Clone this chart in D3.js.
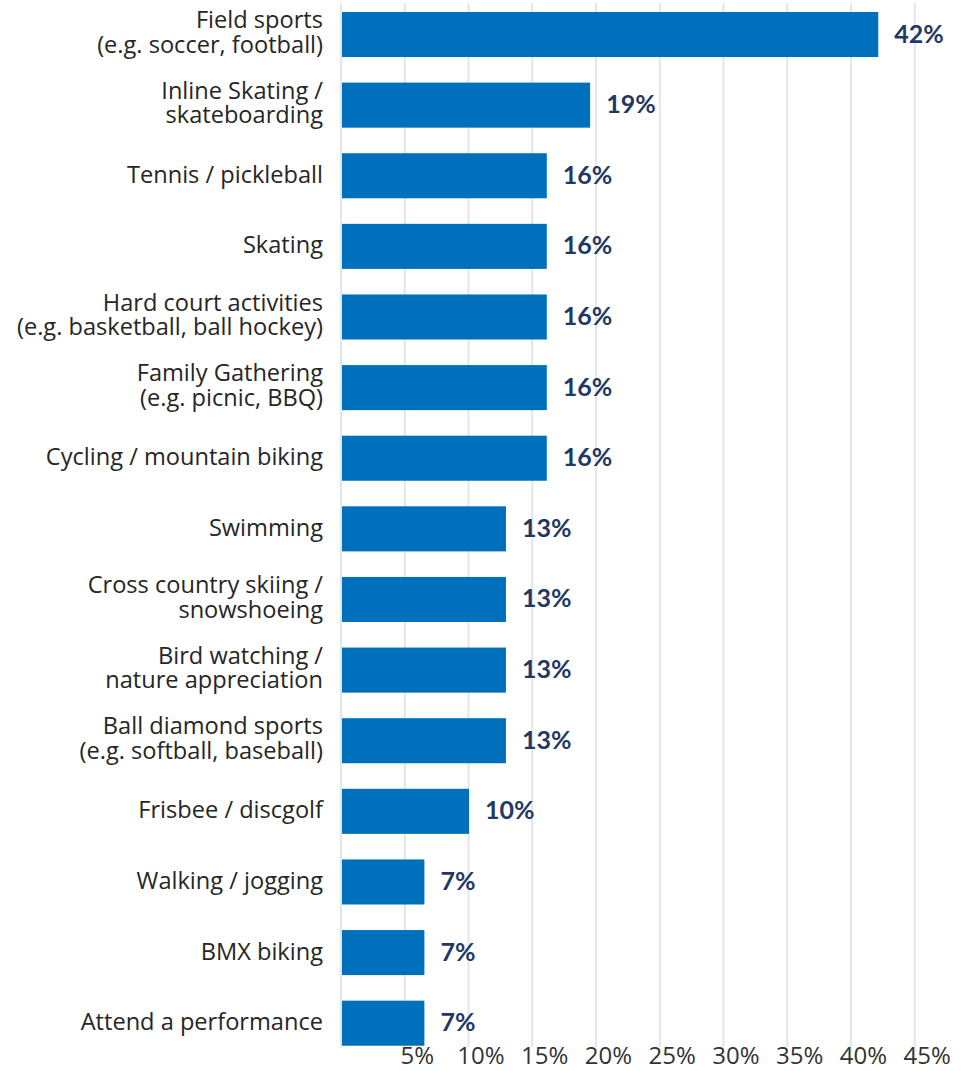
<!DOCTYPE html>
<html>
<head>
<meta charset="utf-8">
<script src="https://cdn.jsdelivr.net/npm/d3@7"></script>
<style>
  html, body { margin: 0; padding: 0; background: #ffffff; }
  svg { display: block; }
</style>
</head>
<body>
<svg id="chart" width="971" height="1071"></svg>
<script>
const categories = [
  "Field sports\n(e.g. soccer, football)",
  "Inline Skating /\nskateboarding",
  "Tennis / pickleball",
  "Skating",
  "Hard court activities\n(e.g. basketball, ball hockey)",
  "Family Gathering\n(e.g. picnic, BBQ)",
  "Cycling / mountain biking",
  "Swimming",
  "Cross country skiing /\nsnowshoeing",
  "Bird watching /\nnature appreciation",
  "Ball diamond sports\n(e.g. softball, baseball)",
  "Frisbee / discgolf",
  "Walking / jogging",
  "BMX biking",
  "Attend a performance"
];
const values = [42.1, 19.5, 16.1, 16.1, 16.1, 16.1, 16.1, 12.9, 12.9, 12.9, 12.9, 10.0, 6.5, 6.5, 6.5];
const valueLabels = ["42%", "19%", "16%", "16%", "16%", "16%", "16%", "13%", "13%", "13%", "13%", "10%", "7%", "7%", "7%"];
const tickValues = [0, 5, 10, 15, 20, 25, 30, 35, 40, 45];
const tickLabels = ["", "5%", "10%", "15%", "20%", "25%", "30%", "35%", "40%", "45%"];

const svg = d3.select("#chart");
const labelFont = "'Open Sans', Lato, sans-serif";
const valueFont = "Lato, 'Open Sans', sans-serif";

const x = d3.scaleLinear().domain([0, 45]).range([341.5, 915.25]);
const y = d3.scaleBand().domain(d3.range(categories.length))
  .range([-0.8, 1058.5]).paddingInner(0.362).paddingOuter(0.181);

// gridlines
svg.append("g").selectAll("line").data(tickValues).join("line")
  .attr("x1", d => x(d) - 0.5).attr("x2", d => x(d) - 0.5)
  .attr("y1", 3).attr("y2", 1047)
  .attr("stroke", "#E1E5EC").attr("stroke-width", 2);

// bars
svg.append("g").selectAll("rect").data(values).join("rect")
  .attr("x", x(0) + 0.5)
  .attr("y", (d, i) => y(i))
  .attr("width", d => x(d) - x(0) - 0.5)
  .attr("height", y.bandwidth())
  .attr("fill", "#0070BC");

// value labels
svg.append("g").selectAll("text").data(values).join("text")
  .attr("x", d => x(d) + 16)
  .attr("y", (d, i) => y(i) + y.bandwidth() / 2 + 8)
  .attr("font-family", valueFont).attr("font-weight", "bold")
  .attr("font-size", 25).attr("fill", "#1F3864")
  .text((d, i) => valueLabels[i]);

// category labels
const cat = svg.append("g").selectAll("text").data(categories).join("text")
  .attr("text-anchor", "end")
  .attr("font-family", labelFont).attr("font-size", 23.6)
  .attr("fill", "#262626");
cat.each(function(d, i) {
  const lines = d.split("\n");
  const cy = y(i) + y.bandwidth() / 2 + 7;
  const pitch = 24.5;
  const start = cy - (lines.length - 1) * pitch / 2 - (lines.length - 1) * 1;
  d3.select(this).selectAll("tspan").data(lines).join("tspan")
    .attr("x", 323)
    .attr("y", (l, j) => start + j * pitch)
    .text(l => l);
});

// x axis tick labels
svg.append("g").selectAll("text").data(tickValues).join("text")
  .attr("x", d => x(d) + 12)
  .attr("y", 1064)
  .attr("text-anchor", "middle")
  .attr("font-family", labelFont).attr("font-size", 24)
  .attr("fill", "#333333")
  .text((d, i) => tickLabels[i]);
</script>
</body>
</html>
